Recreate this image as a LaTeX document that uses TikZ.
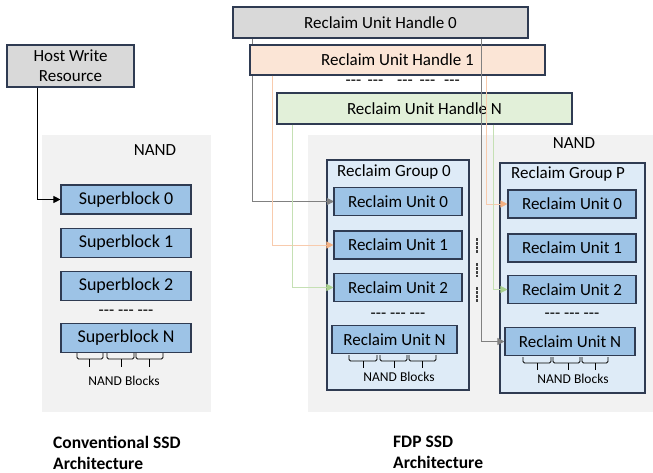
\documentclass[tikz,border=0pt]{standalone}
\usepackage{fontspec}
\setmainfont{Carlito}
\usetikzlibrary{arrows.meta}
\definecolor{bord}{HTML}{2F3B52}
\definecolor{panel}{HTML}{F2F2F2}
\definecolor{grayfill}{HTML}{D9D9D9}
\definecolor{peachfill}{HTML}{FBE5D6}
\definecolor{greenfill}{HTML}{E2F0D9}
\definecolor{sbfill}{HTML}{9DC3E6}
\definecolor{grpfill}{HTML}{DEEBF7}
\definecolor{cgray}{HTML}{808080}
\definecolor{cpeach}{HTML}{F8CBAD}
\definecolor{cpeachhead}{HTML}{F4B183}
\definecolor{cgreen}{HTML}{C5E0B4}
\definecolor{cgreenhead}{HTML}{A9D18E}
\newcommand\tridash{-\kern0pt-\kern0pt-}
\begin{document}
\begin{tikzpicture}[x=1pt,y=-1pt,
  txt/.style={font=\fontsize{17}{20}\selectfont, inner sep=0pt},
  small/.style={font=\fontsize{13.5}{16}\selectfont, inner sep=0pt},
  captxt/.style={font=\fontsize{17.5}{21}\selectfont\bfseries, inner sep=0pt, align=left, anchor=west},
  ubox/.style={draw=bord, line width=1.1pt, fill=sbfill, inner sep=0pt, minimum height=28pt,
    font=\fontsize{17}{20}\selectfont},
  sbox/.style={ubox, minimum width=130pt, minimum height=29pt, font=\fontsize{18}{21}\selectfont},
  hbox/.style={draw=bord, line width=1.1pt, inner sep=0pt, minimum width=295pt, minimum height=31pt,
    font=\fontsize{17}{20}\selectfont},
  grp/.style={draw=bord, line width=1.1pt, fill=grpfill},
  brace/.style={draw=black, line width=0.9pt, rounded corners=1.5pt},
  conn/.style={line width=0.8pt},
  dotv/.style={draw=black!75, line width=1.4pt, dash pattern=on 2.5pt off 1.5pt},
]
\useasboundingbox (0,0) rectangle (653,473);

% ---------------- Left: conventional SSD ----------------
\fill[panel] (42,135) rectangle (211,412);
\node[txt] (nandL) at (155,150) {NAND};
\node[draw=bord, line width=1.1pt, fill=grayfill, inner sep=0pt, minimum width=127pt, minimum height=42pt,
  align=center, font=\fontsize{17}{20}\selectfont] (host) at (70.5,66) {Host Write\\Resource};
\node[sbox] (s0) at (126,199.5) {Superblock 0};
\node[sbox] (s1) at (126,243) {Superblock 1};
\node[sbox] (s2) at (126,286) {Superblock 2};
\node[txt] (sdots) at (126,313) {\tridash\ \tridash\ \tridash};
\node[sbox] (sN) at (126,338) {Superblock N};
\draw[brace] (77,353) -- (77,359) -- (103,359) -- (103,353);
\draw[brace] (107,353) -- (107,359) -- (134,359) -- (134,353);
\draw[brace] (136,353) -- (136,359) -- (163,359) -- (163,353);
\draw[line width=0.9pt] (89.5,359) -- (89.5,367) (121,359) -- (121,367) (149,359) -- (149,367);
\node[small] (nbL) at (124,381) {NAND Blocks};
\draw[line width=0.9pt, -{Triangle[length=7pt,width=7pt]}] ([xshift=31pt]host.south west) |- (s0.west);
\node[captxt] (capL) at (53,452.5) {Conventional SSD\\Architecture};

% ---------------- Right: FDP SSD ----------------
\fill[panel] (308,135) rectangle (653,412);
\node[txt] (nandR) at (574,143) {NAND};
\draw[grp] (327,160) rectangle (469,390);
\draw[grp] (500,163) rectangle (645,393);
\node[txt, anchor=west] (g0) at (337,172) {Reclaim Group 0};
\node[txt, anchor=west] (gP) at (511,174) {Reclaim Group P};

\node[hbox, fill=grayfill] (ruh0) at (380.5,22.5) {Reclaim Unit Handle 0};
\draw[conn, draw=cgray, -{Triangle[length=7pt,width=7pt]}] ([xshift=20pt]ruh0.south west) |- (334,201.5) coordinate (e00);
\node[hbox, fill=peachfill, minimum height=30pt] (ruh1) at (397.5,60) {Reclaim Unit Handle 1};
\node[txt] (d1) at (353.5,83) {\tridash};
\node[txt] (d2) at (375.5,83) {\tridash};
\node[txt] (d3) at (405,83) {\tridash};
\node[txt] (d4) at (427.5,83) {\tridash};
\node[txt] (d5) at (452,83) {\tridash};
\node[hbox, fill=greenfill] (ruhN) at (424.5,108.5) {Reclaim Unit Handle N};

% units of group 0
\node[ubox, minimum width=128pt] (u00) at (398,201.5) {Reclaim Unit 0};
\node[ubox, minimum width=128pt] (u01) at (398,245) {Reclaim Unit 1};
\node[ubox, minimum width=128pt] (u02) at (398,287.5) {Reclaim Unit 2};
\node[txt] (g0dots) at (398,316) {\tridash\ \tridash\ \tridash};
\node[ubox, minimum width=125pt] (u0N) at (394.5,339.5) {Reclaim Unit N};
\draw[brace] (349,355) -- (349,361) -- (377,361) -- (377,355);
\draw[brace] (380,355) -- (380,361) -- (407,361) -- (407,355);
\draw[brace] (409,355) -- (409,361) -- (436,361) -- (436,355);
\draw[line width=0.9pt] (363,361) -- (363,368) (394,361) -- (394,368) (422,361) -- (422,368);
\node[small] (nb0) at (399,377) {NAND Blocks};

% units of group P
\node[ubox, minimum width=128pt] (up0) at (572,204) {Reclaim Unit 0};
\node[ubox, minimum width=128pt] (up1) at (572,248) {Reclaim Unit 1};
\node[ubox, minimum width=128pt] (up2) at (572,289.5) {Reclaim Unit 2};
\node[txt] (gPdots) at (572,316) {\tridash\ \tridash\ \tridash};
\node[ubox, minimum width=130pt] (upN) at (570,341.5) {Reclaim Unit N};
\draw[brace] (523,357) -- (523,363) -- (551,363) -- (551,357);
\draw[brace] (553,357) -- (553,363) -- (580,363) -- (580,357);
\draw[brace] (582,357) -- (582,363) -- (608,363) -- (608,357);
\draw[line width=0.9pt] (537,363) -- (537,370) (568,363) -- (568,370) (595,363) -- (595,370);
\node[small] (nbP) at (573,379) {NAND Blocks};

% dotted separators between the groups
\draw[dotv] (477,238) -- (477,253);
\draw[dotv] (477,263) -- (477,277);
\draw[dotv] (477,287) -- (477,303);

% connectors
\draw[conn, draw=cpeach, -{Triangle[length=7pt,width=7pt,fill=cpeachhead,color=cpeachhead]}] ([xshift=23pt]ruh1.south west) |- (u01.west);
\draw[conn, draw=cgreen, -{Triangle[length=7pt,width=7pt,fill=cgreenhead,color=cgreenhead]}] ([xshift=16pt]ruhN.south west) |- (u02.west);
\draw[conn, draw=cgray, -{Triangle[length=7pt,width=7pt]}] ([xshift=249pt]ruh0.south west) |- (upN.west);
\draw[conn, draw=cpeach, -{Triangle[length=7pt,width=7pt,fill=cpeachhead,color=cpeachhead]}] ([xshift=237pt]ruh1.south west) |- (up0.west);
\draw[conn, draw=cgreen, -{Triangle[length=7pt,width=7pt,fill=cgreenhead,color=cgreenhead]}] ([xshift=217pt]ruhN.south west) |- (up2.west);

\node[captxt] (capR) at (393,452.5) {FDP SSD\\Architecture};
\end{tikzpicture}
\end{document}
